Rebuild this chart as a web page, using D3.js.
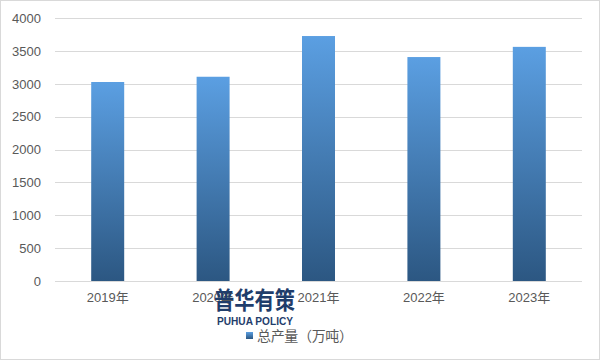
<!DOCTYPE html>
<html><head><meta charset="utf-8">
<script src="https://cdn.jsdelivr.net/npm/d3@7"></script>
<style>body{margin:0;background:#fff}svg{display:block}</style>
</head><body>
<svg id="chart" width="601" height="361"></svg>
<script>
const categories = ["2019年","2020年","2021年","2022年","2023年"];
const values = [3030, 3110, 3730, 3410, 3565];
const yTicks = [0,500,1000,1500,2000,2500,3000,3500,4000];
const seriesName = "总产量（万吨）";

const svg = d3.select("#chart");
const W = 601, H = 361;
const m = {left:55, right:19, top:18.3, bottom:80};
const font = "'Liberation Sans','Noto Sans CJK SC',sans-serif";

svg.append("rect").attr("x",0.5).attr("y",0.5).attr("width",599).attr("height",359)
  .attr("fill","#fff").attr("stroke","#d9d9d9");

const defs = svg.append("defs");
const grad = defs.append("linearGradient").attr("id","barGrad")
  .attr("x1",0).attr("y1",0).attr("x2",0).attr("y2",1);
grad.append("stop").attr("offset","0%").attr("stop-color","#5b9fe2");
grad.append("stop").attr("offset","100%").attr("stop-color","#2c5782");

const x = d3.scaleBand().domain(categories).range([m.left, W-m.right]).paddingInner(0.687).paddingOuter(0.3435);
const y = d3.scaleLinear().domain([0,4000]).range([281, m.top]);

// gridlines
svg.append("g").selectAll("line").data(yTicks).join("line")
  .attr("x1",m.left).attr("x2",W-m.right)
  .attr("y1",d=>Math.round(y(d))+0.5).attr("y2",d=>Math.round(y(d))+0.5)
  .attr("stroke","#d9d9d9").attr("stroke-width",1);

// y axis labels
const yAxis = d3.axisLeft(y).tickValues(yTicks).tickFormat(d3.format("d")).tickSize(0).tickPadding(14);
const gy = svg.append("g").attr("transform",`translate(${m.left},0)`).call(yAxis);
gy.select(".domain").remove();
gy.selectAll("text").attr("font-family",font).attr("font-size",13).attr("fill","#595959");

// bars
svg.append("g").selectAll("rect").data(values).join("rect")
  .attr("x",(d,i)=>x(categories[i]))
  .attr("width",x.bandwidth())
  .attr("y",d=>y(d))
  .attr("height",d=>y(0)-y(d))
  .attr("fill","url(#barGrad)");

// x axis
const xAxis = d3.axisBottom(x).tickSize(0).tickPadding(12);
const gx = svg.append("g").attr("transform",`translate(0,${y(0)})`).call(xAxis);
gx.select(".domain").remove();
gx.selectAll("text").attr("font-family",font).attr("font-size",13).attr("fill","#595959");
svg.append("line").attr("x1",m.left).attr("x2",W-m.right)
  .attr("y1",Math.round(y(0))+0.5).attr("y2",Math.round(y(0))+0.5)
  .attr("stroke","#d9d9d9");

// watermark
svg.append("text").attr("x",254.5).attr("y",309).attr("text-anchor","middle")
  .attr("font-family","'Noto Sans CJK SC',sans-serif").attr("font-weight","bold")
  .attr("font-size",24).attr("textLength",81).attr("lengthAdjust","spacingAndGlyphs")
  .attr("fill","#1f3d6b").text("普华有策");
svg.append("text").attr("x",255).attr("y",325).attr("text-anchor","middle")
  .attr("font-family","'Liberation Sans',sans-serif").attr("font-weight","bold")
  .attr("font-size",11.5).attr("textLength",76).attr("lengthAdjust","spacingAndGlyphs")
  .attr("fill","#1f3d6b").text("PUHUA POLICY");

// legend
const lg = svg.append("g").attr("transform","translate(246,332)");
lg.append("rect").attr("width",7).attr("height",7).attr("fill","url(#barGrad)");
lg.append("text").attr("x",11).attr("y",8.5).attr("font-family","'Noto Sans CJK SC',sans-serif")
  .attr("font-size",14).attr("textLength",96).attr("fill","#595959").text(seriesName);
</script>
</body></html>
